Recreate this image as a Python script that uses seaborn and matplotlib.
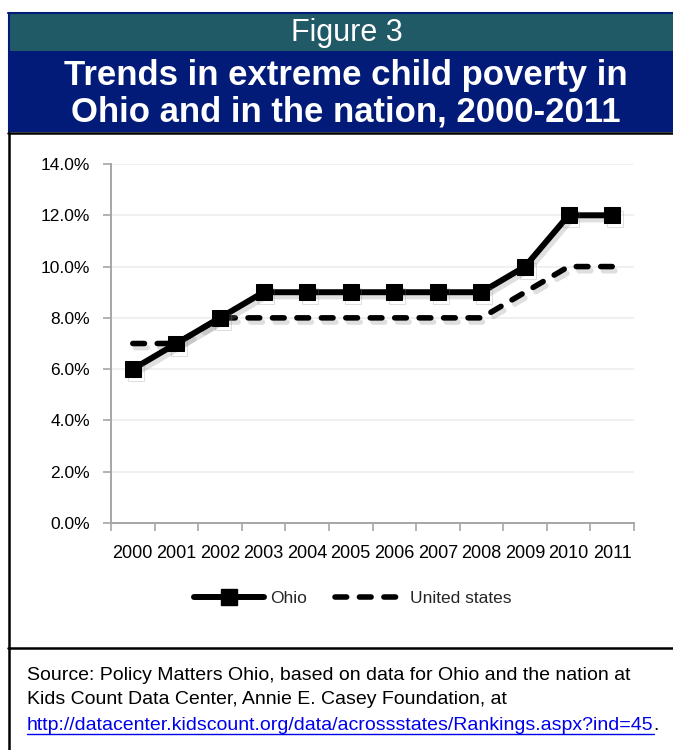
import matplotlib
matplotlib.use("Agg")
import matplotlib.pyplot as plt
import matplotlib.patheffects as pe
from matplotlib.patches import Rectangle
from matplotlib.lines import Line2D
import seaborn as sns
import pandas as pd
import numpy as np

years = ["2000", "2001", "2002", "2003", "2004", "2005", "2006", "2007", "2008", "2009", "2010", "2011"]
ohio = [6, 7, 8, 9, 9, 9, 9, 9, 9, 10, 12, 12]
united_states = [7, 7, 8, 8, 8, 8, 8, 8, 8, 9, 10, 10]
y_ticks = [0, 2, 4, 6, 8, 10, 12, 14]
y_tick_labels = ["0.0%", "2.0%", "4.0%", "6.0%", "8.0%", "10.0%", "12.0%", "14.0%"]

sns.set_theme(style="white")
plt.rcParams["font.family"] = ["Liberation Sans", "DejaVu Sans"]

W, H = 673, 750
fig = plt.figure(figsize=(W / 100, H / 100), dpi=100)

def fx(x):
    return x / W

def fy(y):
    return 1 - y / H

# Header bands
fig.patches.append(Rectangle((fx(8), fy(51)), fx(673 - 8), (51 - 13) / H,
                             transform=fig.transFigure, facecolor="#215a67", edgecolor="none", zorder=0))
fig.patches.append(Rectangle((fx(8), fy(132)), fx(673 - 8), (132 - 51) / H,
                             transform=fig.transFigure, facecolor="#021a78", edgecolor="none", zorder=0))
fig.lines.append(Line2D([fx(8), fx(673)], [fy(13), fy(13)], transform=fig.transFigure, color="#021a78", lw=1.5))
fig.lines.append(Line2D([fx(8.5), fx(8.5)], [fy(13), fy(132)], transform=fig.transFigure, color="#021a78", lw=1.5))
# chart box borders
fig.lines.append(Line2D([fx(8), fx(673)], [fy(133), fy(133)], transform=fig.transFigure, color="black", lw=1.8))
fig.lines.append(Line2D([fx(9), fx(9)], [fy(133), fy(750)], transform=fig.transFigure, color="black", lw=1.8))
fig.lines.append(Line2D([fx(8), fx(673)], [fy(648), fy(648)], transform=fig.transFigure, color="black", lw=1.8))

fig.text(fx(347), fy(33), "Figure 3", color="white", fontsize=22, ha="center", va="center")
fig.text(fx(346), fy(75), "Trends in extreme child poverty in", color="white", fontsize=25,
         fontweight="bold", ha="center", va="center")
fig.text(fx(346), fy(112), "Ohio and in the nation, 2000-2011", color="white", fontsize=25,
         fontweight="bold", ha="center", va="center")

# Axes
ax = fig.add_axes([fx(111), fy(523), (634 - 111) / W, (523 - 164) / H])
x = np.arange(len(years))
df = pd.DataFrame({"x": np.concatenate([x, x]),
                   "value": ohio + united_states,
                   "series": ["Ohio"] * len(years) + ["United states"] * len(years)})

shadow = [pe.SimpleLineShadow(offset=(2, -3), shadow_color="gray", alpha=0.25), pe.Normal()]
US_DASH = [2.1, 2.3]

sns.lineplot(data=df[df.series == "United states"], x="x", y="value", ax=ax, color="black",
             lw=4.0, dashes=False, legend=False)
us_line = ax.lines[-1]
us_line.set_dashes(US_DASH)
us_line.set_dash_capstyle("round")
us_line.set_path_effects(shadow)

sns.lineplot(data=df[df.series == "Ohio"], x="x", y="value", ax=ax, color="black",
             lw=4.3, marker="s", markersize=11.5, markeredgecolor="black", legend=False)
oh_line = ax.lines[-1]
oh_line.set_path_effects(shadow)

ax.set_xlim(-0.5, len(years) - 0.5)
ax.set_ylim(0, 14)
ax.set_yticks(y_ticks)
ax.set_yticklabels(y_tick_labels)
ax.set_xticks(np.arange(-0.5, len(years), 1.0))
ax.set_xticklabels([])
ax.set_xticks(x, minor=True)
ax.set_xticklabels(years, minor=True)
ax.tick_params(axis="x", which="major", direction="out", length=6, color="#a6a6a6", width=1.2, bottom=True)
ax.tick_params(axis="x", which="minor", length=0, pad=16, labelsize=13, labelcolor="black", bottom=True)
ax.tick_params(axis="y", direction="out", length=6, color="#a6a6a6", width=1.2, labelsize=12.5,
               labelcolor="black", pad=9, left=True)
ax.set_xlabel("")
ax.set_ylabel("")
ax.grid(axis="y", color="#eeeeee", lw=1.2)
ax.set_axisbelow(True)
for s in ["top", "right"]:
    ax.spines[s].set_visible(False)
for s in ["left", "bottom"]:
    ax.spines[s].set_color("#a6a6a6")
    ax.spines[s].set_linewidth(1.4)

# Legend
h_ohio = Line2D([], [], color="black", lw=4.3, marker="s", markersize=11.5)
h_us = Line2D([], [], color="black", lw=4.0, dashes=US_DASH, dash_capstyle="round")
fig.legend([h_ohio, h_us], ["Ohio", "United states"], loc="center", bbox_to_anchor=(fx(353), fy(598)),
           ncol=2, frameon=False, fontsize=12.5, handlelength=4.0, handletextpad=0.35, columnspacing=1.6)

# Source
FS = 14
fig.text(fx(27), fy(675), "Source: Policy Matters Ohio, based on data for Ohio and the nation at",
         fontsize=FS, color="black", ha="left", va="center")
fig.text(fx(27), fy(700), "Kids Count Data Center, Annie E. Casey Foundation, at",
         fontsize=FS, color="black", ha="left", va="center")
url = fig.text(fx(27), fy(726), "http://datacenter.kidscount.org/data/acrossstates/Rankings.aspx?ind=45",
               fontsize=FS, color="#0000ee", ha="left", va="center")
fig.canvas.draw()
bb = url.get_window_extent()
fig.lines.append(Line2D([bb.x0 / W, bb.x1 / W], [(bb.y0 + 1) / H, (bb.y0 + 1) / H],
                        transform=fig.transFigure, color="#0000ee", lw=1))
fig.text(bb.x1 / W, fy(726), ".", fontsize=FS, color="black", ha="left", va="center")

fig.savefig("out.png", dpi=100)
